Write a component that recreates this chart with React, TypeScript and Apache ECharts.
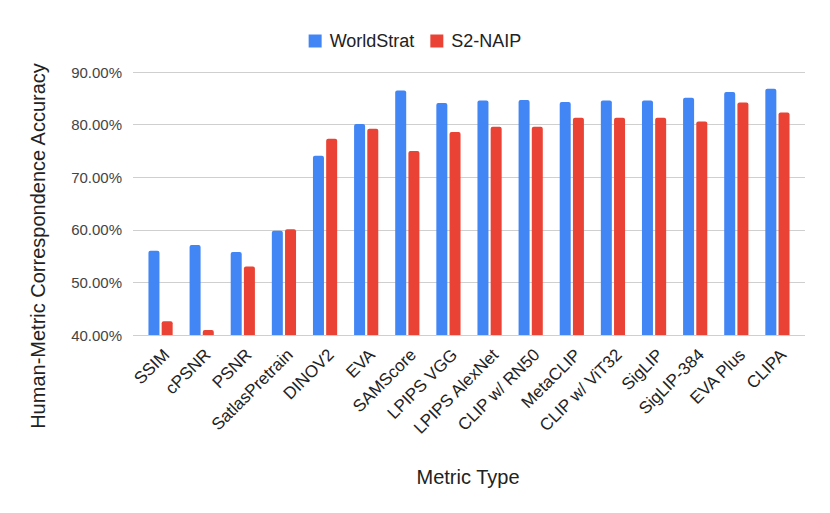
import React, { useEffect, useRef } from "react";
import * as echarts from "echarts";

const categories = [
  "SSIM", "cPSNR", "PSNR", "SatlasPretrain", "DINOV2", "EVA", "SAMScore", "LPIPS VGG",
  "LPIPS AlexNet", "CLIP w/ RN50", "MetaCLIP", "CLIP w/ ViT32", "SigLIP", "SigLIP-384", "EVA Plus", "CLIPA",
];
const worldStrat = [56.0, 57.1, 55.8, 59.8, 74.1, 80.1, 86.5, 84.1, 84.6, 84.7, 84.3, 84.6, 84.6, 85.1, 86.2, 86.8];
const s2naip = [42.6, 40.95, 53.0, 60.1, 77.3, 79.2, 75.0, 78.6, 79.6, 79.6, 81.3, 81.3, 81.3, 80.6, 84.2, 82.3];
const yTicks = { min: 40, max: 90, interval: 10 };

const FONT = "'Liberation Sans', Arial, sans-serif";

export default function App() {
  const ref = useRef<HTMLDivElement>(null);
  useEffect(() => {
    document.body.style.margin = "0";
    if (!ref.current) return;
    const chart = echarts.init(ref.current, null, { renderer: "svg" });
    chart.setOption({
      animation: false,
      backgroundColor: "#ffffff",
      textStyle: { fontFamily: FONT },
      legend: {
        top: 27,
        left: "center",
        itemWidth: 13,
        itemHeight: 13,
        itemGap: 16,
        icon: "rect",
        textStyle: { fontSize: 18, color: "#222", fontFamily: FONT, padding: [0, 0, 0, 3] },
        data: ["WorldStrat", "S2-NAIP"],
      },
      grid: [
        { left: 133, right: 25, top: 72, bottom: 178 },
        { left: 140, right: 32, top: 72, bottom: 178 },
      ],
      xAxis: [
        { type: "value", gridIndex: 0, show: false, min: 0, max: 1 },
        {
          type: "category",
          gridIndex: 1,
          data: categories,
          axisLine: { show: false },
          axisTick: { show: false },
          axisLabel: {
            rotate: 45,
            fontSize: 17,
            color: "#222",
            margin: 11,
            interval: 0,
            verticalAlign: "top",
            fontFamily: FONT,
          },
        },
      ],
      yAxis: [
        {
          type: "value",
          gridIndex: 0,
          min: yTicks.min,
          max: yTicks.max,
          interval: yTicks.interval,
          axisLine: { show: false },
          axisTick: { show: false },
          splitLine: { lineStyle: { color: "#cfcfcf", width: 1 } },
          axisLabel: {
            fontSize: 15,
            color: "#444",
            margin: 11,
            fontFamily: FONT,
            formatter: (v: number) => v.toFixed(2) + "%",
          },
        },
        {
          type: "value",
          gridIndex: 1,
          min: yTicks.min,
          max: yTicks.max,
          interval: yTicks.interval,
          show: false,
          splitLine: { show: false },
        },
      ],
      series: [
        {
          name: "WorldStrat",
          type: "bar",
          xAxisIndex: 1,
          yAxisIndex: 1,
          data: worldStrat,
          barWidth: 11,
          barGap: "20%",
          itemStyle: { color: "#4285F4", borderRadius: [2, 2, 0, 0] },
        },
        {
          name: "S2-NAIP",
          type: "bar",
          xAxisIndex: 1,
          yAxisIndex: 1,
          data: s2naip,
          barWidth: 11,
          barGap: "20%",
          itemStyle: { color: "#EA4335", borderRadius: [2, 2, 0, 0] },
        },
      ],
      graphic: [
        {
          type: "text",
          x: 38,
          y: 246,
          rotation: Math.PI / 2,
          style: {
            text: "Human-Metric Correspondence Accuracy",
            font: `20px ${FONT}`,
            fill: "#222",
            textAlign: "center",
            textVerticalAlign: "middle",
          },
        },
        {
          type: "text",
          x: 468,
          y: 477,
          style: {
            text: "Metric Type",
            font: `20px ${FONT}`,
            fill: "#222",
            textAlign: "center",
            textVerticalAlign: "middle",
          },
        },
      ],
    });
    return () => chart.dispose();
  }, []);
  return <div ref={ref} style={{ width: 830, height: 513 }} />;
}
